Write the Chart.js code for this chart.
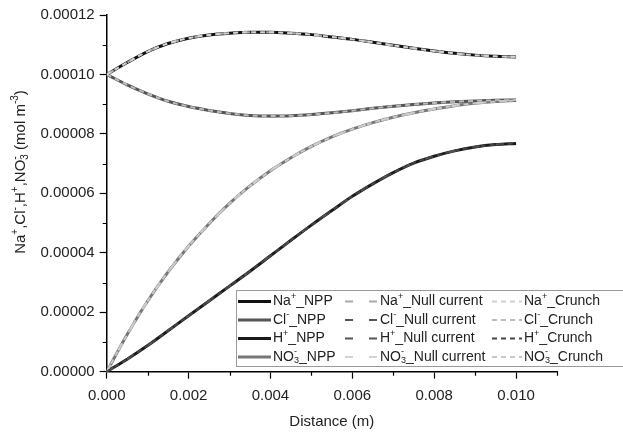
<!DOCTYPE html>
<html>
<head>
<meta charset="utf-8">
<script src="https://cdn.jsdelivr.net/npm/chart.js@4"></script>
<style>
html, body { margin: 0; padding: 0; background: #fff; }
#wrap { width: 623px; height: 437px; position: relative; }
</style>
</head>
<body>
<div id="wrap"><canvas id="chart"></canvas></div>
<script>
// distance along the domain (m)
const distance = [0, 0.0005, 0.001, 0.0015, 0.002, 0.0025, 0.003, 0.0035, 0.004, 0.0045, 0.005,
  0.0055, 0.006, 0.0065, 0.007, 0.0075, 0.008, 0.0085, 0.009, 0.0095, 0.010];

// concentrations (mol m-3), the three models lie on top of each other
const naValues = [10.0e-5, 10.4e-5, 10.77e-5, 11.04e-5, 11.22e-5, 11.33e-5, 11.39e-5, 11.42e-5, 11.42e-5, 11.39e-5, 11.34e-5,
  11.26e-5, 11.18e-5, 11.08e-5, 10.98e-5, 10.88e-5, 10.79e-5, 10.71e-5, 10.65e-5, 10.61e-5, 10.59e-5];
const clValues = [10.0e-5, 9.65e-5, 9.35e-5, 9.1e-5, 8.92e-5, 8.79e-5, 8.69e-5, 8.62e-5, 8.6e-5, 8.61e-5, 8.65e-5,
  8.71e-5, 8.78e-5, 8.86e-5, 8.93e-5, 8.99e-5, 9.04e-5, 9.08e-5, 9.11e-5, 9.13e-5, 9.14e-5];
const hValues = [0, 0.42e-5, 0.88e-5, 1.38e-5, 1.88e-5, 2.38e-5, 2.88e-5, 3.38e-5, 3.9e-5, 4.42e-5, 4.93e-5,
  5.42e-5, 5.9e-5, 6.32e-5, 6.7e-5, 7.02e-5, 7.25e-5, 7.43e-5, 7.56e-5, 7.64e-5, 7.68e-5];
const no3Values = [0, 1.25e-5, 2.38e-5, 3.36e-5, 4.22e-5, 4.98e-5, 5.66e-5, 6.25e-5, 6.76e-5, 7.2e-5, 7.58e-5,
  7.9e-5, 8.16e-5, 8.38e-5, 8.56e-5, 8.71e-5, 8.84e-5, 8.95e-5, 9.03e-5, 9.09e-5, 9.13e-5];

const species = ['Na^{+}', 'Cl^{-}', 'H^{+}', 'NO_{3}^{-}'];
const speciesPlain = ['Na⁺', 'Cl⁻', 'H⁺', 'NO₃⁻'];
const speciesValues = [naValues, clValues, hValues, no3Values];
const models = ['NPP', 'Null current', 'Crunch'];

// ticks
const xTicks = [0, 0.002, 0.004, 0.006, 0.008, 0.010];
const xMinorTicks = [0.001, 0.003, 0.005, 0.007, 0.009, 0.011];
const yTicks = [0, 0.00002, 0.00004, 0.00006, 0.00008, 0.00010, 0.00012];
const yMinorTicks = [0.00001, 0.00003, 0.00005, 0.00007, 0.00009, 0.00011];

// line styles per model, one colour per species
const colors = {
  'NPP': ['#111111', '#555555', '#1a1a1a', '#777777'],
  'Null current': ['#a8a8a8', '#555555', '#555555', '#d2d2d2'],
  'Crunch': ['#d2d2d2', '#bbbbbb', '#444444', '#c8c8c8']
};
const dashes = { 'NPP': [], 'Null current': [8, 16], 'Crunch': [5, 4] };
const widths = { 'NPP': 3, 'Null current': 2.2, 'Crunch': 2 };
const drawOrder = { 'NPP': 3, 'Null current': 2, 'Crunch': 1 };

const FONT = '"Liberation Sans", Arial, sans-serif';

const datasets = [];
models.forEach(m => {
  species.forEach((s, i) => {
    datasets.push({
      label: speciesPlain[i] + '_' + m,
      richLabel: s + '_' + m,
      data: distance.map((d, k) => ({ x: d, y: speciesValues[i][k] })),
      borderColor: colors[m][i],
      borderWidth: widths[m],
      borderDash: dashes[m],
      pointRadius: 0,
      fill: false,
      cubicInterpolationMode: 'monotone',
      order: drawOrder[m],
      model: m
    });
  });
});

// draw text with ^{sup} and _{sub} parts
function drawRich(ctx, str, x, y, size, align) {
  const parts = str.split(/(\^\{[^}]*\}|_\{[^}]*\})/).filter(p => p !== '');
  const segs = parts.map(p => {
    if (p.startsWith('^{')) return { t: p.slice(2, -1), kind: 'sup' };
    if (p.startsWith('_{')) return { t: p.slice(2, -1), kind: 'sub' };
    return { t: p, kind: 'n' };
  });
  const small = Math.round(size * 0.65);
  function w(seg) {
    ctx.font = (seg.kind === 'n' ? size : small) + 'px ' + FONT;
    return ctx.measureText(seg.t).width;
  }
  // layout
  let cx = 0;
  const placed = [];
  for (let i = 0; i < segs.length; i++) {
    const seg = segs[i];
    if (seg.kind === 'sub' && segs[i + 1] && segs[i + 1].kind === 'sup') {
      const a = w(seg), b = w(segs[i + 1]);
      placed.push({ seg, x: cx });
      placed.push({ seg: segs[i + 1], x: cx });
      cx += Math.max(a, b);
      i++;
    } else {
      placed.push({ seg, x: cx });
      cx += w(seg);
    }
  }
  const start = align === 'center' ? x - cx / 2 : x;
  ctx.textBaseline = 'middle';
  ctx.textAlign = 'left';
  placed.forEach(p => {
    let dy = 0;
    if (p.seg.kind === 'sup') dy = -size * 0.38;
    if (p.seg.kind === 'sub') dy = size * 0.28;
    ctx.font = (p.seg.kind === 'n' ? size : small) + 'px ' + FONT;
    ctx.fillText(p.seg.t, start + p.x, y + dy);
  });
}

const extras = {
  id: 'extras',
  afterDraw(chart) {
    const ctx = chart.ctx;
    const xs = chart.scales.x, ys = chart.scales.y;
    const area = chart.chartArea;
    ctx.save();

    // minor ticks
    ctx.strokeStyle = '#000';
    ctx.lineWidth = 1.2;
    ctx.beginPath();
    xMinorTicks.forEach(v => {
      const px = Math.round(xs.getPixelForValue(v)) + 0.5;
      ctx.moveTo(px, area.bottom);
      ctx.lineTo(px, area.bottom + 4);
    });
    yMinorTicks.forEach(v => {
      const py = Math.round(ys.getPixelForValue(v)) + 0.5;
      ctx.moveTo(area.left - 4, py);
      ctx.lineTo(area.left, py);
    });
    ctx.stroke();

    // y axis title
    ctx.fillStyle = '#222';
    ctx.save();
    ctx.translate(21, 172);
    ctx.rotate(-Math.PI / 2);
    drawRich(ctx, 'Na^{+},Cl^{-},H^{+},NO_{3}^{-} (mol m^{-3})', 0, 0, 15, 'center');
    ctx.restore();

    // legend
    const boxL = 236.5, boxT = 290.5, boxB = 366.5;
    ctx.fillStyle = '#fff';
    ctx.fillRect(boxL, boxT, 623 - boxL + 5, boxB - boxT);
    ctx.strokeStyle = '#9a9a9a';
    ctx.lineWidth = 1;
    ctx.strokeRect(boxL, boxT, 623 - boxL + 5, boxB - boxT);

    const colX = [238, 345, 492];
    const sampleW = [33, 33, 30];
    const rowY = [301.5, 320, 338.5, 357];
    chart.data.datasets.forEach(ds => {
      const c = models.indexOf(ds.model);
      const r = speciesPlain.findIndex(s => ds.label.startsWith(s));
      const y = rowY[r];
      ctx.save();
      ctx.strokeStyle = ds.borderColor;
      ctx.lineWidth = ds.borderWidth;
      ctx.setLineDash(ds.borderDash);
      ctx.beginPath();
      ctx.moveTo(colX[c], y);
      ctx.lineTo(colX[c] + sampleW[c], y);
      ctx.stroke();
      ctx.restore();
      ctx.fillStyle = '#222';
      drawRich(ctx, ds.richLabel, colX[c] + sampleW[c] + 2, y, 14, 'left');
    });

    ctx.restore();
  }
};

new Chart(document.getElementById('chart'), {
  type: 'line',
  data: { datasets: datasets },
  plugins: [extras],
  options: {
    responsive: true,
    maintainAspectRatio: false,
    animation: false,
    layout: { padding: { top: 15, right: 66, left: 0, bottom: 0 } },
    plugins: {
      legend: { display: false },
      tooltip: { enabled: false }
    },
    scales: {
      x: {
        type: 'linear',
        min: 0,
        max: 0.011,
        afterBuildTicks: scale => { scale.ticks = xTicks.map(v => ({ value: v })); },
        afterFit: scale => { scale.height = 65.3; },
        ticks: {
          color: '#222',
          font: { family: FONT, size: 15 },
          padding: 8,
          maxRotation: 0,
          callback: v => Number(v).toFixed(3)
        },
        grid: { drawOnChartArea: false, drawTicks: true, tickLength: 7, tickColor: '#000', tickWidth: 1.2 },
        border: { display: true, color: '#000', width: 1.5 },
        title: {
          display: true,
          text: 'Distance (m)',
          color: '#222',
          font: { family: FONT, size: 15 },
          padding: { top: 0, bottom: 6 }
        }
      },
      y: {
        type: 'linear',
        min: 0,
        max: 0.00012,
        afterBuildTicks: scale => { scale.ticks = yTicks.map(v => ({ value: v })); },
        afterFit: scale => { scale.width = 106.7; },
        ticks: {
          color: '#222',
          font: { family: FONT, size: 15 },
          padding: 5,
          callback: v => Number(v).toFixed(5)
        },
        grid: { drawOnChartArea: false, drawTicks: true, tickLength: 7, tickColor: '#000', tickWidth: 1.2 },
        border: { display: true, color: '#000', width: 1.5 }
      }
    }
  }
});
</script>
</body>
</html>
